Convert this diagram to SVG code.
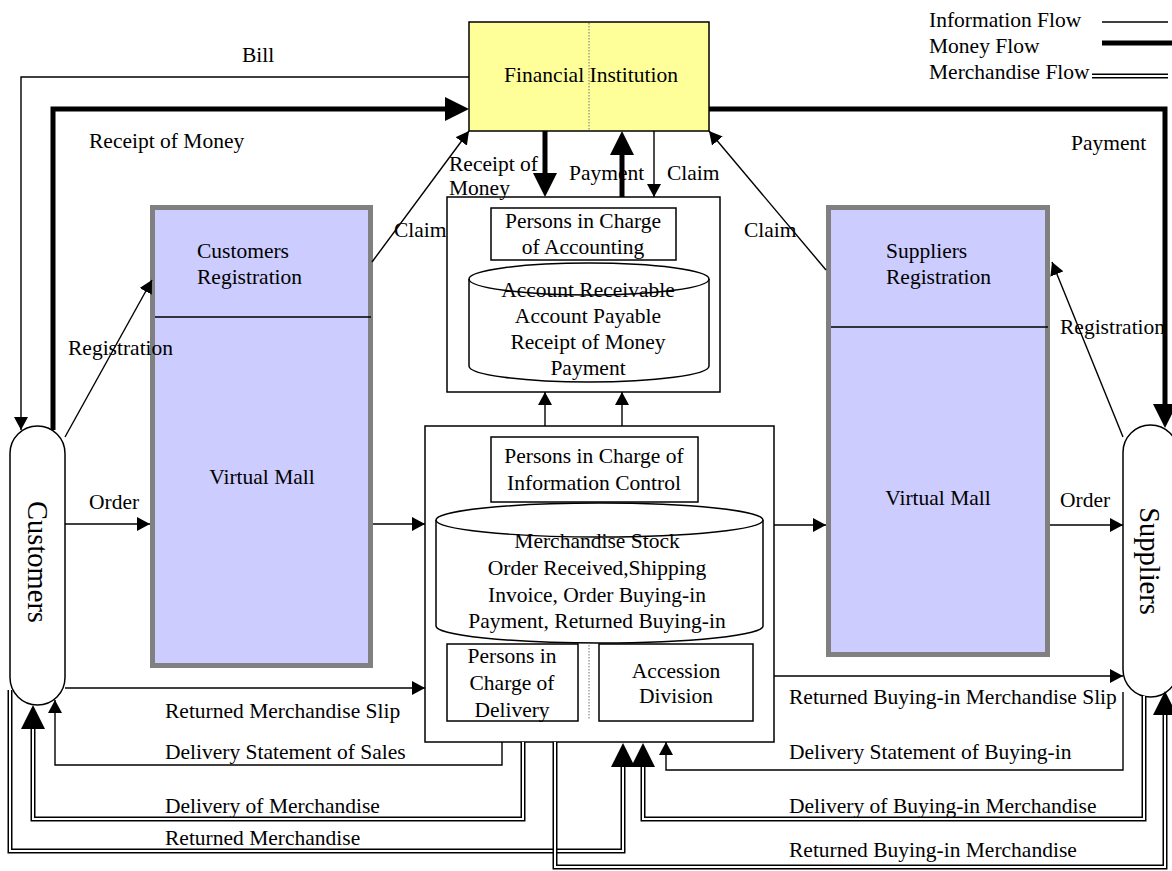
<svg xmlns="http://www.w3.org/2000/svg" width="1172" height="871" viewBox="0 0 1172 871">
<style>
text{font-family:"Liberation Serif","Times New Roman",serif;font-size:21.5px;fill:#000}
.c{text-anchor:middle}
.box{fill:#fff;stroke:#000;stroke-width:1.5}
.vm{fill:#CCCCFF;stroke:#808080;stroke-width:5}
.thin{fill:none;stroke:#000;stroke-width:1.4}
.thick{fill:none;stroke:#000;stroke-width:5}
.dblo{fill:none;stroke:#000;stroke-width:5}
.dbli{fill:none;stroke:#fff;stroke-width:2}
.dot{stroke:#888;stroke-width:1.2;stroke-dasharray:1.5 1.5}
.big{font-size:28.5px}
</style>
<defs>
<marker id="a" markerUnits="userSpaceOnUse" markerWidth="14" markerHeight="14" refX="13" refY="7" orient="auto"><path d="M0,0 L13,7 L0,14 Z" fill="#000"/></marker>
<marker id="A" markerUnits="userSpaceOnUse" markerWidth="25" markerHeight="24" refX="0" refY="12" orient="auto"><path d="M0,0 L24,12 L0,24 Z" fill="#000"/></marker>
</defs>

<g id="legend">
<text x="929" y="27">Information Flow</text>
<line class="thin" x1="1102" y1="22" x2="1168" y2="22"/>
<text x="929" y="53">Money Flow</text>
<line class="thick" x1="1102" y1="43" x2="1172" y2="43"/>
<text x="929" y="79">Merchandise Flow</text>
<line class="dblo" x1="1092" y1="76" x2="1168" y2="76"/>
<line class="dbli" x1="1092" y1="76" x2="1168" y2="76"/>
</g>

<g id="financial-institution">
<rect x="469" y="22" width="240" height="109" fill="#FFFF99" stroke="#000" stroke-width="1.5"/>
<line class="dot" x1="589" y1="23" x2="589" y2="130"/>
<text class="c" x="591" y="82">Financial Institution</text>
</g>

<g id="customers-mall">
<rect class="vm" x="152.5" y="207.5" width="218" height="458"/>
<line class="thin" x1="155" y1="317" x2="371" y2="317"/>
<text x="197" y="258">Customers</text>
<text x="197" y="284">Registration</text>
<text class="c" x="262" y="484">Virtual Mall</text>
</g>

<g id="suppliers-mall">
<rect class="vm" x="828.5" y="207.5" width="219" height="447"/>
<line class="thin" x1="831" y1="327" x2="1048" y2="327"/>
<text x="886" y="258">Suppliers</text>
<text x="886" y="284">Registration</text>
<text class="c" x="938" y="505">Virtual Mall</text>
</g>

<g id="customers">
<rect class="box" x="10" y="426" width="55" height="279" rx="27.5"/>
<text class="c big" transform="translate(28,562) rotate(90)">Customers</text>
</g>

<g id="suppliers">
<rect class="box" x="1123" y="425" width="55" height="272" rx="27.5"/>
<text class="c big" transform="translate(1140,561) rotate(90)">Suppliers</text>
</g>

<g id="accounting">
<rect class="box" x="447" y="197" width="273" height="195"/>
<rect class="box" x="491" y="208" width="185" height="52"/>
<text class="c" x="583" y="228">Persons in Charge</text>
<text class="c" x="583" y="254">of Accounting</text>
<path class="box" d="M469,279 A120,16 0 0 1 709,279 V366 A120,16 0 0 1 469,366 Z"/>
<text class="c" x="588" y="297">Account Receivable</text>
<text class="c" x="588" y="323">Account Payable</text>
<text class="c" x="588" y="349">Receipt of Money</text>
<text class="c" x="588" y="375">Payment</text>
<path class="thin" d="M469,279 A120,16 0 0 0 709,279"/>
</g>

<g id="information-control">
<rect class="box" x="425" y="426" width="349" height="316"/>
<rect class="box" x="491" y="437" width="207" height="65"/>
<text class="c" x="594" y="463">Persons in Charge of</text>
<text class="c" x="594" y="490">Information Control</text>
<path class="box" d="M436,520 A163.5,17 0 0 1 763,520 V626 A163.5,17 0 0 1 436,626 Z"/>
<text class="c" x="597" y="548">Merchandise Stock</text>
<text class="c" x="597" y="575">Order Received,Shipping</text>
<text class="c" x="597" y="602">Invoice, Order Buying-in</text>
<text class="c" x="597" y="628">Payment, Returned Buying-in</text>
<path class="thin" d="M436,520 A163.5,17 0 0 0 763,520"/>
<line class="dot" x1="589" y1="645" x2="589" y2="720"/>
</g>

<g id="delivery">
<rect class="box" x="447" y="644" width="131" height="77"/>
<text class="c" x="512" y="663">Persons in</text>
<text class="c" x="512" y="690">Charge of</text>
<text class="c" x="512" y="717">Delivery</text>
</g>

<g id="accession">
<rect class="box" x="599" y="644" width="154" height="77"/>
<text class="c" x="676" y="678">Accession</text>
<text class="c" x="676" y="703">Division</text>
</g>

<g id="labels">
<text x="242" y="62">Bill</text>
<text x="89" y="148">Receipt of Money</text>
<text x="1071" y="150">Payment</text>
<text x="449" y="171">Receipt of</text>
<text x="449" y="195">Money</text>
<text x="569" y="180">Payment</text>
<text x="667" y="180">Claim</text>
<text x="394" y="237">Claim</text>
<text x="744" y="237">Claim</text>
<text x="68" y="355">Registration</text>
<text x="1060" y="334">Registration</text>
<text x="89" y="509">Order</text>
<text x="1060" y="507">Order</text>
<text x="165" y="718">Returned Merchandise Slip</text>
<text x="165" y="759">Delivery Statement of Sales</text>
<text x="165" y="813">Delivery of Merchandise</text>
<text x="165" y="845">Returned Merchandise</text>
<text x="789" y="704">Returned Buying-in Merchandise Slip</text>
<text x="789" y="759">Delivery Statement of Buying-in</text>
<text x="789" y="813">Delivery of Buying-in Merchandise</text>
<text x="789" y="857">Returned Buying-in Merchandise</text>
</g>

<g id="connectors">
<path class="thin" marker-end="url(#a)" d="M469,77 H21 V430"/>
<path class="thin" marker-end="url(#a)" d="M372,262 L469,131"/>
<path class="thin" marker-end="url(#a)" d="M826,270 L709,131"/>
<path class="thin" marker-end="url(#a)" d="M654,131 V197"/>
<path class="thin" marker-end="url(#a)" d="M65,437 L152,280"/>
<path class="thin" marker-end="url(#a)" d="M1123,437 L1052,262"/>
<path class="thin" marker-end="url(#a)" d="M65,524 H150"/>
<path class="thin" marker-end="url(#a)" d="M373,524 H425"/>
<path class="thin" marker-end="url(#a)" d="M774,525 H826"/>
<path class="thin" marker-end="url(#a)" d="M1050,525 H1123"/>
<path class="thin" marker-end="url(#a)" d="M545,426 V392"/>
<path class="thin" marker-end="url(#a)" d="M622,426 V392"/>
<path class="thin" marker-end="url(#a)" d="M65,688 H425"/>
<path class="thin" marker-end="url(#a)" d="M774,676 H1123"/>
<path class="thin" marker-end="url(#a)" d="M502,742 V765 H55 V700"/>
<path class="thin" marker-end="url(#a)" d="M1123,692 V770 H666 V742"/>

<path class="thick" marker-end="url(#A)" d="M53,430 V109 H445"/>
<path class="thick" marker-end="url(#A)" d="M709,109 H1165 V404"/>
<path class="thick" marker-end="url(#A)" d="M545,131 V173"/>
<path class="thick" marker-end="url(#A)" d="M622,197 V155"/>

<path class="dblo" marker-end="url(#A)" d="M523,742 V819 H33 V729"/>
<path class="dbli" d="M523,742 V819 H33 V729"/>
<path class="dblo" marker-end="url(#A)" d="M10,690 V851 H623 V767"/>
<path class="dbli" d="M10,690 V851 H623 V767"/>
<path class="dblo" marker-end="url(#A)" d="M1144,696 V819 H643 V767"/>
<path class="dbli" d="M1144,696 V819 H643 V767"/>
<path class="dblo" marker-end="url(#A)" d="M555,742 V867 H1165 V715"/>
<path class="dbli" d="M555,742 V867 H1165 V715"/>
</g>
</svg>
